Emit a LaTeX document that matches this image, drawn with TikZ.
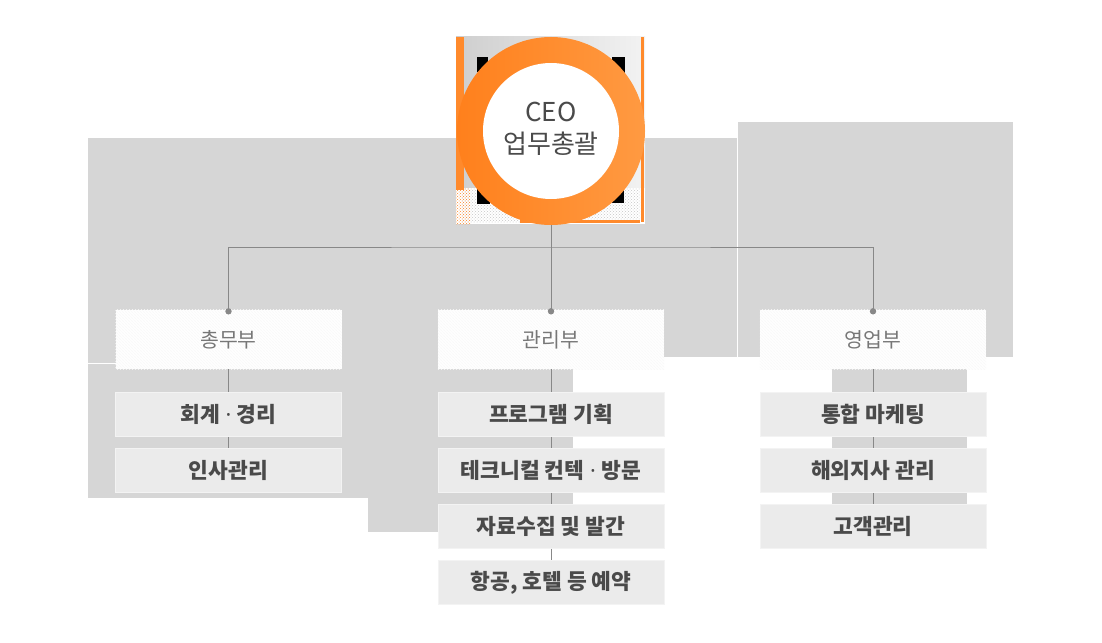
\documentclass[tikz,border=0pt]{standalone}
\usepackage{fontspec}
\newfontfamily\kr{Noto Sans CJK KR}
\newfontfamily\lat{Noto Sans}
\usetikzlibrary{patterns,backgrounds}
\definecolor{bggrey}{HTML}{D6D6D6}
\definecolor{boxgrey}{HTML}{EBEBEB}
\definecolor{linegrey}{HTML}{888888}
\definecolor{txtdark}{HTML}{4A4A4A}
\definecolor{txtdept}{HTML}{777777}
\definecolor{ceoorange}{HTML}{FF8A2C}
\definecolor{ceoorangeL}{HTML}{FF9A42}
\definecolor{ceoorangeD}{HTML}{FF801C}
\newcommand{\mdot}{{\lat\bfseries\ ·\ }}
\tikzset{
  deptbox/.style={rectangle, minimum width=226pt, minimum height=59pt, inner sep=0pt,
    fill=white, text=txtdept, font=\kr\fontsize{20}{24}\selectfont},
  deptpat/.style={pattern=north west lines, pattern color=gray!5},
  depttext/.style={text=txtdept, font=\kr\fontsize{20.5}{24}\selectfont},
  childbox/.style={rectangle, minimum width=226pt, minimum height=44pt, inner sep=0pt,
    fill=boxgrey, draw=white!40!boxgrey, line width=0.8pt, text=txtdark,
    font=\kr\bfseries\fontsize{21.5}{24}\selectfont},
  conn/.style={draw=linegrey, line width=0.9pt},
  bgrect/.style={fill=bggrey},
}
\begin{document}
\begin{tikzpicture}[x=1pt,y=-1pt]
\useasboundingbox (0,0) rectangle (1102,642);
\fill[white] (0,0) rectangle (1102,642);
% grey background blocks
\fill[bgrect] (88,138) rectangle (737,357);
\fill[bgrect] (738,122) rectangle (1013,357);
\fill[bgrect] (88,357) rectangle (438,498);
\fill[bgrect] (368,357) rectangle (438,532);
\fill[bgrect] (438,369) rectangle (573,505);
\fill[bgrect] (832,368) rectangle (967,505);
\draw[white, line width=1pt] (737.5,138) -- (737.5,307);
\draw[white, line width=1pt] (88,363.5) -- (116,363.5);
% CEO picture
\shade[left color=gray!38, right color=gray!10] (456,37) rectangle (645,190);
\fill[white] (456,188) rectangle (645,224);
\fill[pattern=crosshatch dots, pattern color=gray!45] (462,188) rectangle (640,222);
\fill[pattern=crosshatch dots, pattern color=ceoorange] (456,188) rectangle (470,224);
\fill[black] (477,57) rectangle (488,72);
\fill[black] (612,57) rectangle (625,80);
\fill[black] (477,188) rectangle (490,204);
\fill[black] (612,187) rectangle (624,203);
\fill[ceoorange] (456,37) rectangle (464,190);
\fill[ceoorange] (641,37) rectangle (644,222);
\fill[ceoorange] (520,220) rectangle (640,223);
% CEO circle
\node[circle, minimum size=188pt, inner sep=0pt] (ceo) at (551,131) {};
\shade[shading angle=60, left color=ceoorangeD, right color=ceoorangeL] (ceo.center) circle[radius=94];
\fill[white] (ceo.center) circle[radius=68];
\node[text=txtdark, align=center, font=\kr\fontsize{26}{32}\selectfont] (ceotxt) at (551,129) {CEO\\업무총괄};
% departments
\node[deptbox] (d1) at (228.5,339.5) {};
\node[deptbox] (d2) at (551,339.5) {};
\node[deptbox] (d3) at (873,339.5) {};
\foreach \n in {d1,d2,d3} {\fill[deptpat] (\n.north west) rectangle (\n.south east);}
\node[depttext] at (d1) {총무부};
\node[depttext] at (d2) {관리부};
\node[depttext] at (d3) {영업부};
% children
\node[childbox] (c11) at (228.5,414.5) {회계\mdot 경리};
\node[childbox] (c12) at (228.5,470.5) {인사관리};
\node[childbox] (c21) at (551,414.5) {프로그램 기획};
\node[childbox] (c22) at (551,470.5) {테크니컬 컨텍\mdot 방문};
\node[childbox] (c23) at (551,526.5) {자료수집 및 발간};
\node[childbox] (c24) at (551,582.5) {항공, 호텔 등 예약};
\node[childbox] (c31) at (873,414.5) {통합 마케팅};
\node[childbox] (c32) at (873,470.5) {해외지사 관리};
\node[childbox] (c33) at (873,526.5) {고객관리};
% connectors
\coordinate (bus) at (551,247);
\draw[conn] (ceo.south) -- (d2.north);
\draw[conn] (d1.north) |- (bus) -| (d3.north);
\foreach \n in {d1,d2,d3} {\fill[linegrey] ([yshift=-1.5pt]\n.north) circle[radius=3.2];}
\draw[conn] (d1.south) -- (c11.north);
\draw[conn] (c11.south) -- (c12.north);
\draw[conn] (d2.south) -- (c21.north);
\draw[conn] (c21.south) -- (c22.north);
\draw[conn] (c22.south) -- (c23.north);
\draw[conn] (c23.south) -- (c24.north);
\draw[conn] (d3.south) -- (c31.north);
\draw[conn] (c31.south) -- (c32.north);
\draw[conn] (c32.south) -- (c33.north);
\end{tikzpicture}
\end{document}
